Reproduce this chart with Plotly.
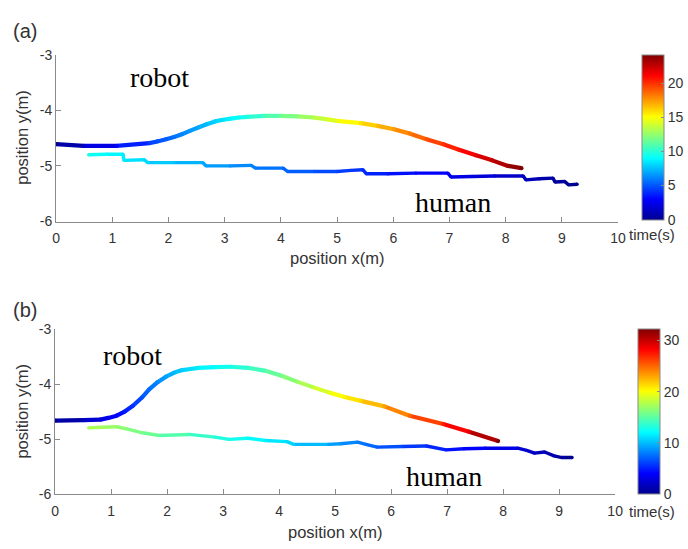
import plotly.graph_objects as go
from plotly.colors import sample_colorscale

# ---------------- data ----------------
# (a) robot trajectory: x (m), y (m), time (s)
robot_a_x = [0.00, 0.49, 1.08, 1.66, 1.80, 1.96, 2.10, 2.24, 2.38, 2.53, 2.68, 2.83, 2.97, 3.11,
             3.25, 3.41, 3.70, 3.99, 4.30, 4.58, 4.80, 5.00, 5.42, 5.72, 6.01, 6.30, 6.59, 6.89,
             7.17, 7.47, 7.76, 8.04, 8.28]
robot_a_y = [-4.61, -4.64, -4.64, -4.59, -4.56, -4.52, -4.48, -4.43, -4.37, -4.31, -4.25, -4.20,
             -4.17, -4.15, -4.13, -4.12, -4.10, -4.10, -4.11, -4.13, -4.16, -4.19, -4.23, -4.28,
             -4.34, -4.42, -4.52, -4.61, -4.71, -4.81, -4.90, -5.00, -5.04]
robot_a_t = [0.0, 1.5, 3.0, 4.5, 4.9, 5.3, 5.7, 6.2, 6.6, 7.0, 7.5, 8.0, 8.4, 8.9,
             9.3, 9.8, 10.6, 11.5, 12.4, 13.3, 14.0, 14.6, 15.8, 16.7, 17.5, 18.3, 19.2, 20.0,
             20.8, 21.7, 22.6, 23.4, 24.2]

# (a) human trajectory
human_a_x = [9.27, 9.12, 9.05, 8.88, 8.84, 8.60, 8.36, 8.31, 7.80, 7.40, 7.03, 6.97, 6.40, 5.90,
             5.52, 5.46, 5.25, 5.00, 4.60, 4.12, 4.04, 3.55, 3.47, 3.10, 2.67, 2.61, 2.10, 1.63,
             1.57, 1.21, 1.19, 0.90, 0.58]
human_a_y = [-5.33, -5.34, -5.28, -5.29, -5.22, -5.23, -5.25, -5.18, -5.18, -5.19, -5.20, -5.13,
             -5.13, -5.14, -5.14, -5.07, -5.08, -5.10, -5.10, -5.10, -5.04, -5.04, -4.99, -5.00,
             -5.00, -4.94, -4.94, -4.94, -4.89, -4.90, -4.79, -4.79, -4.80]
human_a_t = [0.0, 0.2, 0.3, 0.5, 0.6, 0.9, 1.2, 1.3, 1.8, 2.2, 2.6, 2.7, 3.2, 3.6,
             4.0, 4.1, 4.3, 4.6, 5.0, 5.4, 5.5, 6.0, 6.1, 6.5, 6.9, 7.0, 7.6, 8.1,
             8.2, 8.6, 8.7, 9.1, 9.6]

# (b) robot trajectory
robot_b_x = [0.00, 0.51, 0.81, 0.95, 1.10, 1.25, 1.39, 1.55, 1.68, 1.83, 1.98, 2.12, 2.27,
             2.42, 2.56, 2.85, 3.14, 3.45, 3.74, 4.03, 4.32, 4.60, 4.90, 5.17, 5.46, 5.88,
             6.33, 6.93, 7.39, 7.91]
robot_b_y = [-4.66, -4.65, -4.64, -4.61, -4.57, -4.49, -4.39, -4.24, -4.09, -3.96, -3.86, -3.79,
             -3.74, -3.72, -3.70, -3.685, -3.68, -3.70, -3.75, -3.84, -3.95, -4.05, -4.15, -4.23,
             -4.30, -4.40, -4.57, -4.72, -4.86, -5.03]
robot_b_t = [0.0, 1.8, 2.8, 3.4, 4.0, 4.8, 5.6, 6.6, 7.4, 8.3, 9.1, 9.8, 10.5,
             11.0, 11.5, 12.2, 12.8, 13.7, 14.5, 15.7, 16.8, 18.1, 19.4, 20.4, 21.4, 23.0,
             24.8, 27.2, 29.0, 32.1]

# (b) human trajectory
human_b_x = [9.23, 9.05, 8.91, 8.74, 8.56, 8.42, 8.26, 7.68, 7.30, 6.98, 6.63, 6.20, 5.75, 5.55,
             5.40, 5.10, 4.88, 4.26, 4.14, 3.75, 3.44, 3.10, 2.86, 2.39, 1.86, 1.56, 1.28, 1.10,
             0.85, 0.60]
human_b_y = [-5.33, -5.33, -5.30, -5.23, -5.25, -5.20, -5.16, -5.16, -5.17, -5.19, -5.12, -5.13,
             -5.14, -5.09, -5.05, -5.08, -5.09, -5.09, -5.04, -5.02, -4.98, -5.00, -4.96, -4.91,
             -4.93, -4.88, -4.81, -4.77, -4.78, -4.79]
human_b_t = [0.0, 0.5, 0.9, 1.4, 1.9, 2.3, 2.7, 3.6, 4.2, 4.8, 5.4, 6.1, 7.0, 7.5,
             7.9, 8.7, 9.2, 10.6, 10.9, 11.7, 12.2, 12.8, 13.3, 14.2, 15.1, 15.7, 16.3, 16.7,
             17.1, 17.5]

time_max_a = 24.2
time_max_b = 32.1
cbar_ticks_a = [0, 5, 10, 15, 20]
cbar_ticks_b = [0, 10, 20, 30]
x_ticks = list(range(0, 11))
y_ticks = [-6, -5, -4, -3]
y_tick_text = ["-6", "-5", "-4", "-3"]

# ---------------- style ----------------
W, H = 688, 549
JET = [[0.0, "rgb(0,0,143)"], [0.125, "rgb(0,0,255)"], [0.375, "rgb(0,255,255)"],
       [0.625, "rgb(255,255,0)"], [0.875, "rgb(255,0,0)"], [1.0, "rgb(128,0,0)"]]
AX_COLOR = "#8a8a8a"
TXT_COLOR = "#333333"
SANS = "Liberation Sans, Arial, sans-serif"
SERIF = "Liberation Serif, Times New Roman, serif"


def px(xp):
    return xp / W


def py(yp):
    return (H - yp) / H


fig = go.Figure()


def add_path(xs, ys, ts, cmax, width, xa, ya, cax):
    # gradient line: each segment coloured by its mean time on the jet scale
    for i in range(len(xs) - 1):
        frac = 0.5 * (ts[i] + ts[i + 1]) / cmax
        col = sample_colorscale(JET, [min(max(frac, 0), 1)])[0]
        fig.add_trace(go.Scatter(x=[xs[i], xs[i + 1]], y=[ys[i], ys[i + 1]], mode="lines",
                                 line=dict(color=col, width=width),
                                 xaxis=xa, yaxis=ya, hoverinfo="skip", showlegend=False))
    fig.add_trace(go.Scatter(x=xs, y=ys, mode="markers",
                             marker=dict(color=ts, coloraxis=cax, size=width, line=dict(width=0)),
                             xaxis=xa, yaxis=ya, hoverinfo="skip", showlegend=False))


add_path(robot_a_x, robot_a_y, robot_a_t, time_max_a, 4.2, "x", "y", "coloraxis")
add_path(human_a_x, human_a_y, human_a_t, time_max_a, 3.4, "x", "y", "coloraxis")
add_path(robot_b_x, robot_b_y, robot_b_t, time_max_b, 4.2, "x2", "y2", "coloraxis2")
add_path(human_b_x, human_b_y, human_b_t, time_max_b, 3.4, "x2", "y2", "coloraxis2")

axis_common = dict(showline=True, linecolor=AX_COLOR, linewidth=1, mirror=False,
                   showgrid=False, zeroline=False, ticks="inside", ticklen=5,
                   tickcolor=AX_COLOR, tickwidth=1,
                   tickfont=dict(family=SANS, size=14, color=TXT_COLOR))
x_common = dict(range=[0, 10], tickvals=x_ticks, ticklabelstandoff=4, **axis_common)
y_common = dict(range=[-6, -3], tickvals=y_ticks, ticktext=y_tick_text, **axis_common)


def cbar(x0, y_bottom, ticks):
    return dict(x=px(x0), xanchor="left", xpad=0, ypad=0,
                y=py(y_bottom), yanchor="bottom", len=170 / H, lenmode="fraction",
                thickness=22, thicknessmode="pixels",
                tickvals=ticks, ticks="inside", ticklen=3, tickcolor=AX_COLOR,
                outlinecolor=AX_COLOR, outlinewidth=1,
                tickfont=dict(family=SANS, size=14, color=TXT_COLOR))


fig.update_layout(
    width=W, height=H, margin=dict(l=0, r=0, t=0, b=0),
    paper_bgcolor="white", plot_bgcolor="white", showlegend=False,
    xaxis=dict(domain=[px(53), px(625)], anchor="y", **x_common),
    yaxis=dict(domain=[py(220), py(48)], anchor="x", **y_common),
    xaxis2=dict(domain=[px(52), px(622)], anchor="y2", **x_common),
    yaxis2=dict(domain=[py(501), py(331)], anchor="x2", **y_common),
    coloraxis=dict(colorscale=JET, cmin=0, cmax=time_max_a, colorbar=cbar(649, 218, cbar_ticks_a)),
    coloraxis2=dict(colorscale=JET, cmin=0, cmax=time_max_b, colorbar=cbar(645, 501, cbar_ticks_b)),
)

ann = []


def paper_text(text, xp, yp, size, angle=0, family=SANS):
    ann.append(dict(text=text, x=px(xp), y=py(yp), xref="paper", yref="paper",
                    xanchor="center", yanchor="middle", showarrow=False, textangle=angle,
                    font=dict(family=family, size=size, color=TXT_COLOR if family == SANS else "black")))


paper_text("(a)", 21, 24, 20)
paper_text("(b)", 21, 311, 20)
paper_text("position x(m)", 339, 257, 16.5)
paper_text("position x(m)", 337, 540, 16.5)
paper_text("position y(m)", 18, 134, 16.5, angle=-90)
paper_text("position y(m)", 18, 416, 16.5, angle=-90)
paper_text("time(s)", 660, 233, 15)
paper_text("time(s)", 660, 519, 15)

for txt, xd, yd, xr, yr in [("robot", 1.84, -3.42, "x", "y"), ("human", 7.06, -5.65, "x", "y"),
                            ("robot", 1.39, -3.47, "x2", "y2"), ("human", 6.95, -5.67, "x2", "y2")]:
    ann.append(dict(text=txt, x=xd, y=yd, xref=xr, yref=yr, showarrow=False,
                    xanchor="center", yanchor="middle",
                    font=dict(family=SERIF, size=28, color="black")))

fig.update_layout(annotations=ann)

fig.write_html("out.html")
